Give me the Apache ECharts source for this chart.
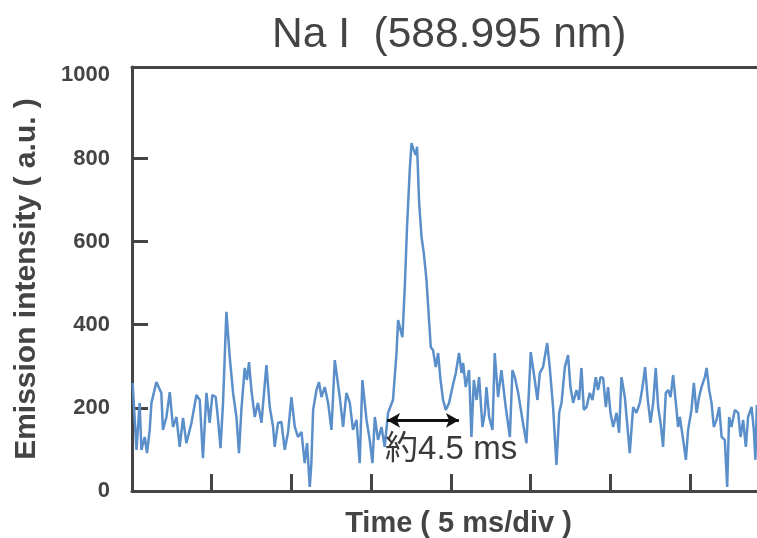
<!DOCTYPE html>
<html>
<head>
<meta charset="utf-8">
<script src="https://cdn.jsdelivr.net/npm/echarts@6/dist/echarts.min.js"></script>
<style>
  html, body { margin: 0; padding: 0; background: #fff; }
  #chart { width: 757px; height: 538px; }
</style>
</head>
<body>
<div id="chart"></div>
<script>
// Na I emission trace, time in ms and intensity in a.u.
const times = [
  0.04, 0.28, 0.48, 0.59, 0.80, 0.94, 1.11, 1.22, 1.53, 1.84,
  1.94, 2.16, 2.37, 2.57, 2.79, 2.99, 3.20, 3.41, 3.73, 4.04,
  4.25, 4.45, 4.67, 4.87, 5.04, 5.25, 5.40, 5.55, 5.71, 5.92,
  6.13, 6.34, 6.55, 6.71, 6.86, 7.07, 7.21, 7.34, 7.49, 7.70,
  7.90, 8.12, 8.43, 8.64, 8.85, 8.95, 9.16, 9.37, 9.58, 9.79,
  10.00, 10.21, 10.41, 10.63, 10.83, 10.98, 11.15, 11.25, 11.36, 11.57,
  11.73, 11.88, 12.09, 12.30, 12.51, 12.72, 13.03, 13.24, 13.45, 13.66,
  13.86, 14.08, 14.28, 14.45, 14.71, 14.91, 15.08, 15.23, 15.43, 15.65,
  15.85, 16.06, 16.37, 16.59, 16.69, 16.84, 16.96, 17.11, 17.25, 17.42,
  17.53, 17.67, 17.80, 17.88, 18.01, 18.16, 18.30, 18.47, 18.63, 18.74,
  18.88, 19.05, 19.20, 19.35, 19.51, 19.68, 19.89, 20.10, 20.31, 20.51,
  20.67, 20.77, 20.93, 21.14, 21.29, 21.44, 21.61, 21.77, 21.98, 22.13,
  22.23, 22.40, 22.61, 22.75, 22.96, 23.17, 23.44, 23.70, 23.86, 24.01,
  24.22, 24.49, 24.74, 25.01, 25.26, 25.43, 25.58, 25.78, 26.04, 26.20,
  26.41, 26.62, 26.80, 26.94, 27.15, 27.35, 27.50, 27.67, 27.88, 28.04,
  28.19, 28.34, 28.51, 28.71, 28.88, 29.09, 29.23, 29.39, 29.55, 29.72,
  29.86, 30.01, 30.18, 30.39, 30.55, 30.70, 30.91, 31.02, 31.22, 31.43,
  31.64, 31.85, 32.02, 32.18, 32.35, 32.52, 32.69, 32.85, 33.00, 33.15,
  33.31, 33.48, 33.63, 33.78, 33.94, 34.11, 34.25, 34.36, 34.57, 34.74,
  34.88, 35.09, 35.24, 35.41, 35.57, 35.72, 35.93, 36.04, 36.20, 36.35,
  36.49, 36.66, 36.83, 36.98, 37.18, 37.33, 37.45, 37.60, 37.81, 38.02,
  38.17, 38.33, 38.50, 38.64, 38.86, 39.00, 39.10, 39.19
];

const intensity = [
  260, 99, 212, 99, 130, 91, 147, 212, 262, 236,
  147, 178, 238, 154, 178, 106, 176, 115, 164, 231,
  219, 79, 236, 164, 231, 226, 171, 103, 212, 431,
  322, 236, 178, 91, 195, 296, 267, 310, 243, 178,
  212, 164, 303, 202, 154, 106, 164, 166, 99, 142,
  226, 154, 130, 142, 67, 115, 10, 67, 195, 243,
  262, 226, 250, 212, 147, 315, 226, 154, 236, 212,
  147, 171, 67, 267, 171, 123, 67, 178, 123, 154,
  106, 188, 219, 332, 411, 387, 370, 491, 635, 772,
  837, 820, 808, 828, 693, 611, 573, 508, 411, 346,
  339, 298, 332, 267, 219, 195, 212, 250, 284, 332,
  284, 308, 250, 291, 130, 267, 219, 274, 154, 188,
  250, 178, 147, 332, 226, 291, 202, 130, 291, 274,
  236, 171, 115, 334, 267, 219, 284, 298, 356, 298,
  202, 63, 190, 212, 298, 327, 250, 212, 243, 219,
  296, 195, 202, 236, 219, 274, 243, 274, 272, 202,
  250, 188, 154, 188, 140, 274, 226, 178, 91, 202,
  188, 212, 250, 298, 219, 164, 212, 296, 202, 164,
  106, 236, 243, 226, 279, 212, 154, 178, 123, 75,
  147, 195, 260, 188, 226, 250, 274, 296, 243, 212,
  154, 171, 202, 130, 123, 10, 178, 154, 195, 188,
  130, 171, 106, 178, 202, 147, 75, 207
];

// Axis ticks: 5 ms per division, intensity every 200
const timeTicks = [5, 10, 15, 20, 25, 30, 35];
const intensityLabels = [0, 200, 400, 600, 800, 1000];
const intensityTicks = [200, 400, 600, 800];

// Pulse width marker (about 4.5 ms)
const pulseStart = 16.0;
const pulseEnd = 20.5;
const pulseLevel = 170;
const pulseText = '約4.5 ms';

const axisColor = '#444';
const textColor = '#444';
const lineColor = '#5b8fca';
const latin = 'Liberation Sans, Arial, sans-serif';

const seriesData = times.map((t, i) => [t, intensity[i]]);

const chart = echarts.init(document.getElementById('chart'), null, { renderer: 'canvas' });

chart.setOption({
  animation: false,
  backgroundColor: '#fff',
  title: {
    text: 'Na I  (588.995 nm)',
    left: 267,
    top: 9,
    textStyle: {
      fontFamily: latin,
      fontSize: 42.5,
      fontWeight: 'normal',
      color: textColor
    }
  },
  grid: {
    left: 132,
    right: 0,
    top: 67,
    bottom: 47,
    containLabel: false,
    outerBoundsMode: 'none'
  },
  xAxis: [
    {
      type: 'value',
      min: 0,
      max: 39.2,
      interval: 5,
      position: 'bottom',
      name: 'Time ( 5 ms/div )',
      nameLocation: 'middle',
      nameGap: 18,
      nameTextStyle: {
        fontFamily: latin,
        fontSize: 29,
        fontWeight: 'bold',
        color: textColor,
        verticalAlign: 'top',
        padding: [0, 0, 0, 28]
      },
      splitLine: { show: false },
      axisLine: { show: true, onZero: false, lineStyle: { color: axisColor, width: 3 } },
      axisTick: {
        show: true,
        inside: true,
        length: 17,
        customValues: timeTicks,
        lineStyle: { color: axisColor, width: 3 }
      },
      axisLabel: { show: false }
    },
    {
      type: 'value',
      min: 0,
      max: 39.2,
      position: 'top',
      splitLine: { show: false },
      axisLine: { show: true, onZero: false, lineStyle: { color: axisColor, width: 3 } },
      axisTick: { show: false },
      axisLabel: { show: false }
    }
  ],
  yAxis: {
    type: 'value',
    min: 0,
    max: 1020,
    interval: 200,
    name: 'Emission intensity ( a.u. )',
    nameLocation: 'middle',
    nameRotate: 90,
    nameGap: 90,
    nameTextStyle: {
      fontFamily: latin,
      fontSize: 30,
      fontWeight: 'bold',
      color: textColor
    },
    splitLine: { show: false },
    axisLine: { show: true, onZero: false, lineStyle: { color: axisColor, width: 3 } },
    axisTick: {
      show: true,
      inside: true,
      length: 16,
      customValues: intensityTicks,
      lineStyle: { color: axisColor, width: 3 }
    },
    axisLabel: {
      show: true,
      margin: 22,
      customValues: intensityLabels,
      formatter: (v) => String(v),
      fontFamily: latin,
      fontSize: 22,
      fontWeight: 'bold',
      color: textColor
    }
  },
  series: [
    {
      type: 'line',
      xAxisIndex: 0,
      data: seriesData,
      showSymbol: false,
      symbol: 'none',
      smooth: false,
      lineStyle: { color: lineColor, width: 2.5 },
      z: 3,
      markLine: {
        silent: true,
        symbol: ['arrow', 'arrow'],
        symbolSize: [11, 13],
        lineStyle: { color: '#111', width: 3, type: 'solid' },
        label: {
          show: true,
          position: 'insideStartBottom',
          distance: [-2, 13],
          formatter: pulseText,
          fontFamily: 'Liberation Sans, Noto Sans CJK JP, sans-serif',
          fontSize: 33,
          color: '#3a3a3a'
        },
        data: [
          [
            { coord: [pulseStart, pulseLevel] },
            { coord: [pulseEnd, pulseLevel] }
          ]
        ]
      }
    }
  ]
});
</script>
</body>
</html>
